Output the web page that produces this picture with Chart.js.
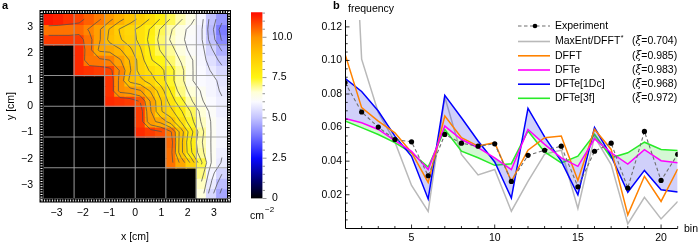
<!DOCTYPE html>
<html><head><meta charset="utf-8">
<script src="https://cdn.jsdelivr.net/npm/chart.js@4.4.0/dist/chart.umd.min.js"></script>
<style>
html,body{margin:0;padding:0;background:#fff;}
#wrap{position:relative;width:700px;height:244px;overflow:hidden;background:#fff;}
canvas{position:absolute;left:0;top:0;}
</style></head><body>
<div id="wrap">
<canvas id="ca" width="700" height="244"></canvas>
<canvas id="cb" width="700" height="244"></canvas>
<canvas id="cc" width="700" height="244"></canvas>
</div>
<script>
// ---------- panel b data ----------
const bins = [1,2,3,4,5,6,7,8,9,10,11,12,13,14,15,16,17,18,19,20,21];
const experiment = [0.0868,0.0693,0.0603,0.0529,0.0515,0.0313,0.0559,0.0507,0.0489,0.0503,0.0279,0.0435,0.0465,0.0489,0.0247,0.0459,0.0507,0.0240,0.0577,0.0285,0.0441];
const maxEntDFFT = [0.30,0.1008,0.0690,0.0515,0.0255,0.0100,0.0782,0.0440,0.0318,0.0350,0.0102,0.0280,0.0442,0.0465,0.0118,0.0545,0.0380,0.0026,0.0185,0.0056,0.0160];
const dfft = [0.1038,0.0719,0.0639,0.0569,0.0452,0.0273,0.0669,0.0540,0.0490,0.0510,0.0280,0.0465,0.0540,0.0550,0.0285,0.0590,0.0470,0.0080,0.0310,0.0160,0.0353];
const dfte = [0.0655,0.0629,0.0589,0.0523,0.0459,0.0350,0.0609,0.0529,0.0480,0.0420,0.0350,0.0589,0.0500,0.0420,0.0369,0.0533,0.0450,0.0383,0.0469,0.0403,0.0390];
const dfte1Dc = [0.0894,0.0815,0.0699,0.0549,0.0429,0.0175,0.0792,0.0659,0.0520,0.0395,0.0180,0.0715,0.0545,0.0400,0.0200,0.0600,0.0430,0.0215,0.0345,0.0230,0.0216];
const dfte3f = [0.0639,0.0600,0.0559,0.0510,0.0450,0.0365,0.0589,0.0460,0.0420,0.0375,0.0385,0.0580,0.0455,0.0390,0.0430,0.0560,0.0420,0.0450,0.0513,0.0470,0.0463];
const legendNames = ['Experiment','MaxEnt/DFFT','DFFT','DFTe','DFTe[1Dc]','DFTe[3f]'];
const xiValues = [null,'0.704','0.985','0.983','0.968','0.972'];
const yTicksB = [0.02,0.04,0.06,0.08,0.10,0.12];
const xTicksB = [5,10,15,20];

// ---------- panel a data (density, cm^-2; 0 = black region) ----------
const mapX = [-3.31,-2.92,-2.53,-2.14,-1.75,-1.36,-0.97,-0.58,-0.19,0.19,0.58,0.97,1.36,1.75,2.14,2.53,2.92,3.31];
const mapRows = [
 [11.4,11.3,11.1,10.9,10.6,10.3,9.9,9.4,9.0,8.6,8.2,7.7,7.2,6.8,6.4,5.9,5.0,4.4],
 [10.4,10.4,10.4,10.5,10.2,9.8,9.2,8.7,8.4,8.1,7.7,7.2,6.8,6.4,6.1,5.8,4.9,4.0],
 [11.0,11.0,11.0,11.0,10.4,9.8,9.1,8.8,8.5,8.1,7.6,7.1,6.7,6.35,6.05,5.8,5.0,4.2],
 [0,0,0,11.2,10.4,9.65,9.6,9.3,8.85,8.3,7.7,7.2,6.9,6.5,6.1,5.9,5.3,4.7],
 [0,0,0,11.2,10.35,10.35,10.25,9.8,9.2,8.5,7.8,7.5,7.1,6.7,6.3,5.95,5.5,5.1],
 [0,0,0,11.2,11.1,11.0,10.9,10.2,9.3,8.5,8.2,7.9,7.4,6.9,6.3,6.0,5.7,5.4],
 [0,0,0,0,0,0,11.1,10.1,9.1,8.9,8.5,8.0,7.4,6.9,6.3,6.0,5.9,5.6],
 [0,0,0,0,0,0,11.1,10.1,10.0,9.8,9.2,8.5,7.7,7.0,6.6,6.2,5.9,5.7],
 [0,0,0,0,0,0,11.2,11.1,11.0,10.7,9.7,8.8,8.0,7.4,6.8,6.3,6.0,5.8],
 [0,0,0,0,0,0,0,0,0,11.0,9.8,8.8,8.4,7.8,7.2,6.6,6.1,5.8],
 [0,0,0,0,0,0,0,0,0,11.0,9.9,9.6,9.0,8.2,7.4,6.7,6.2,5.9],
 [0,0,0,0,0,0,0,0,0,11.2,11.0,10.8,10.3,9.0,7.9,6.9,6.2,5.9],
 [0,0,0,0,0,0,0,0,0,0,0,0,10.5,8.9,7.7,6.8,6.2,5.9],
 [0,0,0,0,0,0,0,0,0,0,0,0,10.4,8.9,7.8,6.9,6.2,5.8],
 [0,0,0,0,0,0,0,0,0,0,0,0,10.4,9.6,8.6,7.3,6.2,5.7],
 [0,0,0,0,0,0,0,0,0,0,0,0,0,0,0,7.0,5.9,5.3],
 [0,0,0,0,0,0,0,0,0,0,0,0,0,0,0,6.7,5.7,4.9],
 [0,0,0,0,0,0,0,0,0,0,0,0,0,0,0,6.5,5.4,4.6]
];
const mapTicks = [-3,-2,-1,0,1,2,3];
const meshLines = [-2.333,-1.167,0,1.167,2.333];
const contourLevels = [4.25,4.75,5.25,5.75,6.25,6.75,7.25,7.75,8.25,8.75,9.25,9.75,10.25,10.75];
const cbarTicks = [0,2.5,5.0,7.5,10.0];
const cbarMax = 11.55;

// colour map (style)
const cmap = [
 [0,0,0,0],[1.2,0,0,120],[2.5,10,10,255],[4.0,125,125,255],[5.0,195,195,255],
 [6.0,250,250,255],[6.6,255,255,215],[7.5,255,245,20],[9.0,255,195,0],[10.0,255,150,0],[11.55,255,10,0]
];
function colorFor(v){
  if(v<=cmap[0][0]) return 'rgb(0,0,0)';
  for(let k=1;k<cmap.length;k++){
    if(v<=cmap[k][0]){
      const a=cmap[k-1], b=cmap[k], t=(v-a[0])/(b[0]-a[0]);
      return `rgb(${Math.round(a[1]+(b[1]-a[1])*t)},${Math.round(a[2]+(b[2]-a[2])*t)},${Math.round(a[3]+(b[3]-a[3])*t)})`;
    }
  }
  const l=cmap[cmap.length-1]; return `rgb(${l[1]},${l[2]},${l[3]})`;
}
const FONT = '"Liberation Sans", Arial, Helvetica, sans-serif';

// ---------- panel a ----------
const mapMin=-3.5, mapMax=3.5;
const cellH = (mapMax-mapMin)/mapRows.length;
const cellW = (mapMax-mapMin)/mapX.length;
const mapDatasets = mapRows.map((row,j)=>({
  data: row.map(()=>[mapMax-(j+1)*cellH, mapMax-j*cellH]),
  backgroundColor: row.map(colorFor),
  borderWidth:0, inflateAmount:0.7,
  barPercentage:1, categoryPercentage:1, grouped:false
}));
function drawContours(ctx, xl, y){
  const nR=mapRows.length, nC=mapRows[0].length;
  const X=i=>xl.getPixelForValue(mapMin+(i+0.5)*cellW);
  const Y=j=>y.getPixelForValue(mapMax-(j+0.5)*cellH);
  ctx.strokeStyle='rgba(80,80,80,0.75)'; ctx.lineWidth=1;
  contourLevels.forEach(L=>{
    ctx.beginPath();
    for(let j=0;j<nR-1;j++) for(let i=0;i<nC-1;i++){
      const a=mapRows[j][i], b=mapRows[j][i+1], c=mapRows[j+1][i+1], d=mapRows[j+1][i];
      if(a<=0||b<=0||c<=0||d<=0) continue;
      const p=[];
      const edge=(v1,v2,x1,y1,x2,y2)=>{ if((v1<L)!==(v2<L)){ const t=(L-v1)/(v2-v1); p.push([x1+(x2-x1)*t, y1+(y2-y1)*t]); } };
      edge(a,b,X(i),Y(j),X(i+1),Y(j));
      edge(b,c,X(i+1),Y(j),X(i+1),Y(j+1));
      edge(c,d,X(i+1),Y(j+1),X(i),Y(j+1));
      edge(d,a,X(i),Y(j+1),X(i),Y(j));
      if(p.length>=2){ ctx.moveTo(p[0][0],p[0][1]); ctx.lineTo(p[1][0],p[1][1]); }
      if(p.length===4){ ctx.moveTo(p[2][0],p[2][1]); ctx.lineTo(p[3][0],p[3][1]); }
    }
    ctx.stroke();
  });
}
const panelA = {
  id:'panelA',
  afterDatasetsDraw(chart){
    const {ctx, chartArea:a, scales} = chart;
    ctx.save();
    ctx.beginPath(); ctx.rect(a.left,a.top,a.right-a.left,a.bottom-a.top); ctx.clip();
    drawContours(ctx, scales.xl, scales.y);
    ctx.restore();
  },
  afterDraw(chart){
    const {ctx, chartArea:a, scales} = chart;
    const xl = scales.xl, y = scales.y;
    ctx.save();
    ctx.strokeStyle='rgba(160,160,160,0.9)'; ctx.lineWidth=1.1;
    meshLines.forEach(v=>{
      const px=xl.getPixelForValue(v), py=y.getPixelForValue(v);
      ctx.beginPath(); ctx.moveTo(px,a.top); ctx.lineTo(px,a.bottom); ctx.stroke();
      ctx.beginPath(); ctx.moveTo(a.left,py); ctx.lineTo(a.right,py); ctx.stroke();
    });
    const fw=4;
    ctx.fillStyle='#000';
    ctx.fillRect(a.left-fw,a.top-fw,a.right-a.left+2*fw,fw);
    ctx.fillRect(a.left-fw,a.bottom,a.right-a.left+2*fw,fw);
    ctx.fillRect(a.left-fw,a.top,fw,a.bottom-a.top);
    ctx.fillRect(a.right,a.top,fw,a.bottom-a.top);
    ctx.fillStyle='#fff';
    for(let xx=a.left-2; xx<a.right+2; xx+=2.6){
      ctx.fillRect(xx,a.top-3,1,2); ctx.fillRect(xx,a.bottom+1,1,2);
    }
    for(let yy=a.top-2; yy<a.bottom+2; yy+=2.6){
      ctx.fillRect(a.left-3,yy,2,1); ctx.fillRect(a.right+1,yy,2,1);
    }
    ctx.fillStyle='#000'; ctx.font='10.5px '+FONT;
    ctx.textAlign='center'; ctx.textBaseline='middle';
    mapTicks.forEach(v=>{
      const s = v<0 ? '\u2212'+Math.abs(v) : String(v);
      ctx.fillText(s, xl.getPixelForValue(v), 213);
    });
    ctx.textAlign='right';
    mapTicks.forEach(v=>{
      const s = v<0 ? '\u2212'+Math.abs(v) : String(v);
      ctx.fillText(s, 33, y.getPixelForValue(v));
    });
    ctx.textAlign='center';
    ctx.fillText('x [cm]', 135, 237);
    ctx.save(); ctx.translate(11,106); ctx.rotate(-Math.PI/2); ctx.fillText('y [cm]',0,0); ctx.restore();
    ctx.font='bold 11px '+FONT; ctx.textAlign='left';
    ctx.fillText('a', 2, 6);
    ctx.fillText('b', 333, 6);
    ctx.restore();
  }
};
new Chart(document.getElementById('ca'), {
  type:'bar',
  data:{ labels: mapX.map(String), datasets: mapDatasets },
  options:{
    responsive:false, animation:false, events:[],
    layout:{padding:{left:43.5,right:700-227,top:14,bottom:244-198.5}},
    plugins:{legend:{display:false},tooltip:{enabled:false}},
    scales:{
      x:{type:'category',display:false,offset:true,grid:{display:false}},
      xl:{type:'linear',axis:'x',min:mapMin,max:mapMax,display:false,offset:false,grid:{offset:false}},
      y:{type:'linear',min:mapMin,max:mapMax,display:false}
    }
  },
  plugins:[panelA]
});

// ---------- colour bar ----------
const cbarPlugin = {
  id:'cbar',
  afterDraw(chart){
    const {ctx, chartArea:a, scales:{y}} = chart;
    ctx.save();
    ctx.strokeStyle='rgba(90,90,90,0.8)'; ctx.lineWidth=0.8;
    for(let v=0; v<=cbarMax+1e-6; v+=0.5){
      const py=y.getPixelForValue(v);
      const major = Math.abs(v/2.5-Math.round(v/2.5))<1e-6;
      ctx.beginPath(); ctx.moveTo(a.right,py); ctx.lineTo(a.right+(major?4:2.5),py); ctx.stroke();
    }
    ctx.fillStyle='#000'; ctx.font='10.5px '+FONT; ctx.textAlign='left'; ctx.textBaseline='middle';
    cbarTicks.forEach(v=>{ ctx.fillText(v===0?'0':v.toFixed(1), 272, y.getPixelForValue(v)); });
    ctx.fillText('cm', 250, 216);
    ctx.font='8px '+FONT; ctx.fillText('\u22122', 265, 210);
    ctx.restore();
  }
};
new Chart(document.getElementById('cb'), {
  type:'bar',
  data:{ labels:['density'], datasets:[{
    data:[[0,cbarMax]], borderWidth:0, barPercentage:1, categoryPercentage:1,
    backgroundColor:(c)=>{
      const ch=c.chart; if(!ch.chartArea) return '#888';
      const y=ch.scales.y;
      const g=ch.ctx.createLinearGradient(0,y.getPixelForValue(0),0,y.getPixelForValue(cbarMax));
      cmap.forEach(s=>g.addColorStop(Math.min(1,s[0]/cbarMax), colorFor(s[0])));
      return g;
    }
  }]},
  options:{
    responsive:false, animation:false, events:[],
    layout:{padding:{left:251,right:700-262.5,top:12.3,bottom:244-198.5}},
    plugins:{legend:{display:false},tooltip:{enabled:false}},
    scales:{ x:{display:false}, y:{min:0,max:cbarMax,display:false} }
  },
  plugins:[cbarPlugin]
});

// ---------- panel b ----------
const pts = arr => bins.map((b,i)=>({x:b,y:arr[i]}));
const lineStyles = {
  exp:'rgb(110,110,110)', gray:'rgb(185,185,185)', orange:'rgb(255,130,0)',
  magenta:'rgb(255,0,255)', blue:'rgb(0,0,255)', green:'rgb(40,235,40)'
};
const panelB = {
  id:'panelB',
  afterDraw(chart){
    const {ctx, chartArea:a, scales:{x,y}} = chart;
    ctx.save();
    ctx.strokeStyle='#000'; ctx.lineWidth=1;
    const ax=Math.round(a.left)+0.5, ay=Math.round(a.bottom)+0.5;
    ctx.beginPath(); ctx.moveTo(ax,a.top); ctx.lineTo(ax,ay); ctx.lineTo(a.right,ay); ctx.stroke();
    ctx.lineWidth=0.8;
    for(let v=0.005; v<=0.1241; v+=0.005){
      const py=y.getPixelForValue(v);
      const major = Math.abs(v/0.02-Math.round(v/0.02))<1e-6;
      ctx.beginPath(); ctx.moveTo(ax,py); ctx.lineTo(ax+(major?4:2.2),py); ctx.stroke();
    }
    for(let v=2; v<=21; v++){
      const px=x.getPixelForValue(v);
      const major = v%5===0;
      ctx.beginPath(); ctx.moveTo(px,ay); ctx.lineTo(px,ay-(major?4:2.5)); ctx.stroke();
    }
    ctx.fillStyle='#000'; ctx.font='10.5px '+FONT;
    ctx.textAlign='right'; ctx.textBaseline='middle';
    yTicksB.forEach(v=>ctx.fillText(v.toFixed(2), 342, y.getPixelForValue(v)));
    ctx.textAlign='center';
    xTicksB.forEach(v=>ctx.fillText(String(v), x.getPixelForValue(v), 238));
    ctx.textAlign='left';
    ctx.fillText('frequency', 348, 9);
    ctx.fillText('bin', 684, 229);
    const rows=[26,41.5,55.8,70,84.2,98.3];
    const cols=[lineStyles.exp,lineStyles.gray,lineStyles.orange,lineStyles.magenta,lineStyles.blue,lineStyles.green];
    rows.forEach((ry,i)=>{
      ctx.strokeStyle=cols[i];
      if(i===0){ ctx.lineWidth=1.1; ctx.setLineDash([3.5,2.5]); }
      else { ctx.lineWidth=1.6; ctx.setLineDash([]); }
      ctx.beginPath(); ctx.moveTo(518,ry); ctx.lineTo(550,ry); ctx.stroke();
      ctx.setLineDash([]);
      if(i===0){ ctx.fillStyle='#000'; ctx.beginPath(); ctx.arc(535,ry,2.3,0,Math.PI*2); ctx.fill(); }
      ctx.fillStyle='#000'; ctx.font='10.5px '+FONT; ctx.textAlign='left';
      ctx.fillText(legendNames[i], 555, ry);
      if(i===1){
        const w=ctx.measureText(legendNames[i]).width;
        ctx.font='7px '+FONT; ctx.fillText('*', 555+w+0.5, ry-3);
      }
      if(xiValues[i]){
        let cx=632;
        ctx.font='10.5px '+FONT; ctx.fillText('(',cx,ry); cx+=ctx.measureText('(').width;
        ctx.font='italic 10.5px "DejaVu Serif", serif'; ctx.fillText('\u03BE',cx,ry); cx+=ctx.measureText('\u03BE').width;
        ctx.font='10.5px '+FONT; ctx.fillText('='+xiValues[i]+')',cx,ry);
      }
    });
    ctx.restore();
  }
};
new Chart(document.getElementById('cc'), {
  type:'line',
  data:{ datasets:[
    {label:legendNames[0], data:pts(experiment), borderColor:lineStyles.exp, borderWidth:1.1, borderDash:[3.5,2.5],
     pointRadius:2.6, pointBackgroundColor:'#000', pointBorderWidth:0, fill:false, order:0},
    {label:legendNames[1], data:pts(maxEntDFFT), borderColor:lineStyles.gray, borderWidth:1.5, pointRadius:0, fill:false, order:6},
    {label:legendNames[2], data:pts(dfft), borderColor:lineStyles.orange, borderWidth:1.5, pointRadius:0, fill:false, order:2},
    {label:legendNames[3], data:pts(dfte), borderColor:lineStyles.magenta, borderWidth:1.5, pointRadius:0, fill:false, order:1},
    {label:legendNames[4], data:pts(dfte1Dc), borderColor:lineStyles.blue, borderWidth:1.5, pointRadius:0,
     fill:{target:3, above:'rgba(40,40,230,0.22)', below:'rgba(40,40,230,0.22)'}, order:3},
    {label:legendNames[5], data:pts(dfte3f), borderColor:lineStyles.green, borderWidth:1.5, pointRadius:0,
     fill:{target:3, above:'rgba(40,220,40,0.2)', below:'rgba(40,220,40,0.2)'}, order:4}
  ]},
  options:{
    responsive:false, animation:false, events:[],
    layout:{padding:{left:345,right:700-677.7,top:20,bottom:244-228.3}},
    plugins:{legend:{display:false},tooltip:{enabled:false}},
    elements:{line:{tension:0}},
    scales:{
      x:{type:'linear',min:1,max:21,display:false},
      y:{type:'linear',min:0,max:0.1241,display:false}
    }
  },
  plugins:[panelB]
});
</script>
</body></html>
